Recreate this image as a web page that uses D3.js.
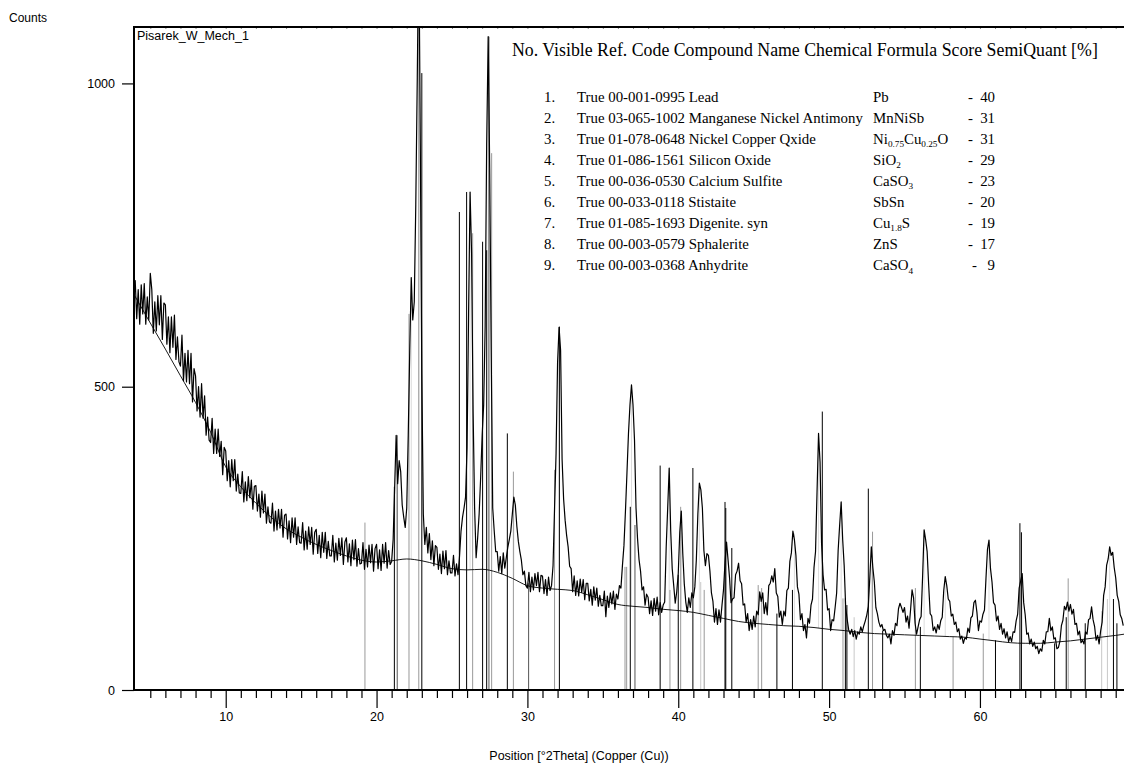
<!DOCTYPE html>
<html><head><meta charset="utf-8">
<script src="https://cdn.jsdelivr.net/npm/d3@7"></script>
<style>body{margin:0;background:#fff} svg{display:block}</style>
</head><body>
<svg id="c" width="1124" height="763"></svg>
<script>
// ---- data ----
const twoThetaStart = 3.9, twoThetaStep = 0.1;
const counts = [
640,
675,612,660,603,668,620,670,603,648,610,
687,660,588,640,592,650,602,650,578,638,
635,570,615,556,615,565,618,545,582,541,
534,585,510,555,508,560,505,555,475,530,
518,460,500,450,505,448,485,420,450,412,
408,448,390,430,390,430,385,410,355,400,
394,345,378,335,380,345,380,328,356,325,
324,360,310,343,312,352,317,346,298,336,
337,295,323,285,328,292,323,275,302,277,
275,308,262,295,264,298,267,298,252,288,
290,249,279,243,284,252,284,240,269,243,
242,276,231,262,232,269,240,268,224,260,
265,225,255,218,260,227,260,217,245,221,
221,255,211,242,214,250,222,251,207,244,
251,211,241,205,247,215,248,204,233,208,
209,243,199,232,203,239,210,240,196,233,
240,200,231,197,240,209,243,201,230,207,
212,248,335,420,340,378,360,305,285,268,
300,420,560,680,610,640,800,1010,1250,900,
520,290,240,268,226,258,215,246,205,238,
235,199,224,192,229,200,230,190,213,193,
193,222,188,208,190,220,262,285,300,318,
400,620,821,720,460,300,218,250,290,350,
420,470,600,900,1077,860,560,300,262,228,
228,196,220,192,226,201,218,235,248,262,
290,318,305,270,245,228,214,190,196,172,
168,194,162,186,165,192,172,194,162,189,
188,159,182,156,186,164,172,205,300,390,
540,598,560,380,315,280,255,236,204,200,
162,188,156,180,155,183,161,182,149,176,
176,147,166,140,170,148,168,138,156,139,
139,163,121,155,136,160,142,163,133,158,
150,172,168,205,238,295,358,423,470,503,
470,412,300,250,215,196,165,170,140,158,
153,126,147,123,151,130,153,124,144,128,
140,145,235,300,366,262,200,172,143,162,
192,260,295,225,175,145,128,152,136,160,
152,170,215,290,341,330,300,230,205,225,
222,196,160,146,112,134,108,132,112,140,
165,210,244,215,185,144,150,152,190,196,
209,180,175,140,142,112,126,98,116,100,
122,104,130,124,162,146,160,126,144,124,
172,176,188,178,200,160,154,120,130,108,
130,122,164,168,212,226,262,248,222,170,
158,116,126,98,108,86,118,110,140,150,
202,228,326,423,376,242,190,165,166,132,
134,98,116,114,136,160,230,272,310,248,
205,136,116,99,92,100,88,98,84,96,
92,104,96,106,114,124,138,186,236,202,
178,136,126,112,104,108,98,100,90,86,
92,76,98,90,110,106,134,143,136,128,
136,112,122,102,132,165,152,110,92,104,
116,121,188,264,248,228,174,126,122,98,
104,94,108,100,114,120,164,187,172,150,
146,122,125,108,112,96,101,84,89,77,
86,84,102,95,119,122,144,148,128,98,
114,112,125,132,184,232,247,200,178,144,
140,114,122,100,110,92,101,86,96,80,
88,80,96,95,114,125,168,180,192,144,
124,92,94,76,84,72,79,68,72,60,
68,64,82,76,96,96,118,98,104,84,
86,68,70,80,106,115,138,132,145,130,
141,125,133,108,110,91,97,78,82,76,
96,92,116,118,137,116,105,82,90,76,
97,112,156,170,206,216,236,222,227,202,
185,156,146,124,118,106
];

const bgTheta = [3.92,5,6,7,8,9,10,11,12,13,14,15,16,17,18,19,20,21,22,23,24,25,26,27,28,29,30,31,32,33,34,35,36,37,38,39,40,41,42,43,44,45,46,47,48,49,50,51,52,53,54,55,56,57,58,59,60,61,62,63,64,65,66,67,68,69,69.55];
const bgCounts = [652,605,562,518,474,425,368,335,308,285,266,252,240,230,221,214,211,213,216,213,207,200,198,199,194,184,172,168,166,164,157,149,141,138,136,133,131,128,123,118,113,110,108,106,105,103,100,98,95,93,92,91,90,89,88,87,84,81,78,77,77,79,81,84,87,90,92];

const stickTheta  = [19.23,21.18,21.37,22.15,22.8,23.0,25.49,25.97,26.37,27.03,27.3,27.45,27.63,28.67,29.07,30.08,31.8,32.12,36.47,36.58,36.82,37.13,38.8,39.45,40.0,40.16,40.97,41.49,41.72,43.1,43.15,43.55,45.3,45.53,46.54,47.57,49.55,50.92,51.08,51.18,51.66,52.6,52.88,53.55,55.72,56.05,58.22,60.22,61.03,62.65,62.75,64.95,65.72,65.85,66.98,68.07,68.45,68.85,69.08];
const stickCounts = [276,335,420,620,1093,1017,788,821,753,739,725,1077,885,423,360,176,363,599,203,203,302,272,370,165,190,302,366,178,165,310,300,234,173,168,126,165,459,151,151,140,120,332,261,98,168,104,88,93,82,275,260,77,120,184,110,130,150,150,110];
const stickShade  = ["g","k","d","g","g","k","k","k","g","k","k","d","g","k","g","d","g","k","g","g","k","d","k","g","k","g","k","l","g","k","k","k","g","g","k","k","k","g","k","k","l","k","g","k","g","k","g","g","k","k","k","k","k","g","k","l","l","k","k"];

const peakTheta  = [21.3,22.3,22.8,26.2,27.4,29.1,32.1,36.9,39.4,40.2,41.4,43.2,47.7,49.3,50.8,52.8,56.3,57.7,60.6,62.8,68.6];
const peakCounts = [420,680,1093,821,1077,318,598,503,366,295,341,244,258,423,310,236,264,187,247,192,236];

const xMajorTicks = [10,20,30,40,50,60];
const xMinorTicks = [5,6,7,8,9,11,12,13,14,15,16,17,18,19,21,22,23,24,25,26,27,28,29,31,32,33,34,35,36,37,38,39,41,42,43,44,45,46,47,48,49,51,52,53,54,55,56,57,58,59,61,62,63,64,65,66,67,68,69];
const yTicks = [0,500,1000];

const yTitle = "Counts";
const xTitle = "Position [°2Theta] (Copper (Cu))";
const sampleName = "Pisarek_W_Mech_1";
const legendHeader = "No. Visible Ref. Code Compound Name Chemical Formula Score SemiQuant [%]";
const phaseNo = ["1.","2.","3.","4.","5.","6.","7.","8.","9."];
const phaseDesc = ["True 00-001-0995 Lead","True 03-065-1002 Manganese Nickel Antimony","True 01-078-0648 Nickel Copper Qxide","True 01-086-1561 Silicon Oxide","True 00-036-0530 Calcium Sulfite","True 00-033-0118 Stistaite","True 01-085-1693 Digenite. syn","True 00-003-0579 Sphalerite","True 00-003-0368 Anhydrite"];
const phaseFormula = ["Pb","MnNiSb","Ni{0.75}Cu{0.25}O","SiO{2}","CaSO{3}","SbSn","Cu{1.8}S","ZnS","CaSO{4}"];
const phaseScore = ["40","31","31","29","23","20","19","17","9"];

// ---- chart ----
const svg = d3.select("#c");
const L = 134, R = 1124, T = 27, B = 690;
const x = d3.scaleLinear().domain([3.92, 69.55]).range([L, R]);
const y = d3.scaleLinear().domain([0, 1093]).range([B, T]);
const sans = "'Liberation Sans', Arial, Helvetica, sans-serif";
const serif = "'Liberation Serif', 'Times New Roman', Times, serif";

svg.append("defs").append("clipPath").attr("id","clip")
  .append("rect").attr("x", L).attr("y", T).attr("width", R - L).attr("height", B - T);
const plot = svg.append("g").attr("clip-path","url(#clip)");

function bgInterp(t){
  const i = d3.bisectRight(bgTheta, t) - 1;
  if (i < 0) return bgCounts[0];
  const j = Math.min(i+1, bgTheta.length-1);
  const f = (t - bgTheta[i]) / ((bgTheta[j]-bgTheta[i]) || 1);
  return bgCounts[i] + f*(bgCounts[j]-bgCounts[i]);
}

const shadeColor = {k:"#000", d:"#555", g:"#999", l:"#c8c8c8"};

// peak markers (light, from background to peak)
plot.selectAll("line.pk").data(peakTheta.map((t,i)=>({t, c: peakCounts[i]}))).join("line")
  .attr("class","pk")
  .attr("x1", d=>x(d.t)).attr("x2", d=>x(d.t))
  .attr("y1", d=>y(bgInterp(d.t))).attr("y2", d=>y(d.c))
  .attr("stroke","#dcdcdc").attr("stroke-width",1);

// reference sticks
const sticks = stickTheta.map((t,i)=>({t, c: stickCounts[i], s: stickShade[i]}));
plot.selectAll("line.st").data(sticks).join("line")
  .attr("class","st")
  .attr("x1", d=>x(d.t)).attr("x2", d=>x(d.t))
  .attr("y1", y(0)).attr("y2", d=>y(d.c))
  .attr("stroke", d=>shadeColor[d.s]).attr("stroke-width",1);

// background curve
const bgData = bgTheta.map((t,i)=>[t, bgCounts[i]]);
plot.append("path").datum(bgData)
  .attr("d", d3.line().x(d=>x(d[0])).y(d=>y(d[1])).curve(d3.curveMonotoneX))
  .attr("fill","none").attr("stroke","#000").attr("stroke-width",0.9);

// observed pattern
const obs = counts.map((c,i)=>[twoThetaStart + i*twoThetaStep, c]);
plot.append("path").datum(obs)
  .attr("d", d3.line().x(d=>x(d[0])).y(d=>y(d[1])))
  .attr("fill","none").attr("stroke","#000").attr("stroke-width",1.2).attr("stroke-linejoin","round");

// axes
const yAxis = d3.axisLeft(y).tickValues(yTicks).tickFormat(d3.format("d")).tickSize(12).tickPadding(7).tickSizeOuter(0);
const gy = svg.append("g").attr("transform",`translate(${L},0)`).call(yAxis);
gy.select(".domain").remove();
gy.selectAll("line").attr("stroke","#000").attr("stroke-width",1.2);
gy.selectAll("text").attr("font-family",sans).attr("font-size",12.5).attr("fill","#000");

const xAxis = d3.axisBottom(x).tickValues(xMajorTicks).tickFormat(d3.format("d")).tickSize(18).tickPadding(4).tickSizeOuter(0);
const gx = svg.append("g").attr("transform",`translate(0,${B})`).call(xAxis);
gx.select(".domain").remove();
gx.selectAll("line").attr("stroke","#000").attr("stroke-width",1.2);
gx.selectAll("text").attr("font-family",sans).attr("font-size",12.5).attr("fill","#000");

const xMinor = d3.axisBottom(x).tickValues(xMinorTicks).tickSize(8).tickFormat("").tickSizeOuter(0);
const gxm = svg.append("g").attr("transform",`translate(0,${B})`).call(xMinor);
gxm.select(".domain").remove();
gxm.selectAll("line").attr("stroke","#000").attr("stroke-width",1.2);

// top small ticks
const xTop = d3.axisBottom(x).tickValues(xMinorTicks.concat(xMajorTicks)).tickSize(2).tickFormat("").tickSizeOuter(0);
const gxt = svg.append("g").attr("transform",`translate(0,${T})`).call(xTop);
gxt.select(".domain").remove();
gxt.selectAll("line").attr("stroke","#888").attr("stroke-width",1);

// frame
svg.append("line").attr("x1",L).attr("x2",L).attr("y1",T-1).attr("y2",B+1).attr("stroke","#000").attr("stroke-width",2);
svg.append("line").attr("x1",L-1).attr("x2",R).attr("y1",T).attr("y2",T).attr("stroke","#000").attr("stroke-width",2);
svg.append("line").attr("x1",L-1).attr("x2",R).attr("y1",B).attr("y2",B).attr("stroke","#000").attr("stroke-width",2);

// titles
svg.append("text").attr("x",9).attr("y",22).text(yTitle)
  .attr("font-family",sans).attr("font-size",12).attr("fill","#000");
svg.append("text").attr("x",579).attr("y",760).attr("text-anchor","middle").text(xTitle)
  .attr("font-family",sans).attr("font-size",12.5).attr("fill","#000");
svg.append("text").attr("x",137).attr("y",40).text(sampleName)
  .attr("font-family",sans).attr("font-size",12.5).attr("fill","#000");

// legend table
function fitSize(str, width) {
  const p = svg.append("text").attr("x",0).attr("y",-50).text(str)
    .attr("font-family",serif).attr("font-size",16);
  const s = 16 * width / p.node().getComputedTextLength();
  p.remove();
  return s;
}
const fsHead = fitSize(legendHeader, 586);
const fs = fitSize(phaseDesc[1], 286);

svg.append("text").attr("x",512).attr("y",56).text(legendHeader)
  .attr("font-family",serif).attr("font-size",fsHead).attr("fill","#000");

const rowY0 = 101.5, rowDy = 21.1;
phaseNo.forEach((n,i)=>{
  const yy = rowY0 + i*rowDy;
  svg.append("text").attr("x",544).attr("y",yy).text(n).attr("font-family",serif).attr("font-size",fs);
  svg.append("text").attr("x",577).attr("y",yy).text(phaseDesc[i]).attr("font-family",serif).attr("font-size",fs);
  const ft = svg.append("text").attr("x",873).attr("y",yy).attr("font-family",serif).attr("font-size",fs);
  const re = /\{([^}]*)\}|([^{]+)/g; let m; let shifted = false;
  while ((m = re.exec(phaseFormula[i])) !== null) {
    if (m[1] !== undefined) {
      ft.append("tspan").attr("font-size", fs*0.62).attr("dy", shifted ? 0 : fs*0.22).text(m[1]);
      shifted = true;
    } else {
      ft.append("tspan").attr("dy", shifted ? -fs*0.22 : 0).text(m[2]);
      shifted = false;
    }
  }
  svg.append("text").attr("x",968 + (phaseScore[i].length===1?4:0)).attr("y",yy).text("-").attr("font-family",serif).attr("font-size",fs);
  svg.append("text").attr("x",995).attr("y",yy).attr("text-anchor","end").text(phaseScore[i]).attr("font-family",serif).attr("font-size",fs);
});
</script>
</body></html>
